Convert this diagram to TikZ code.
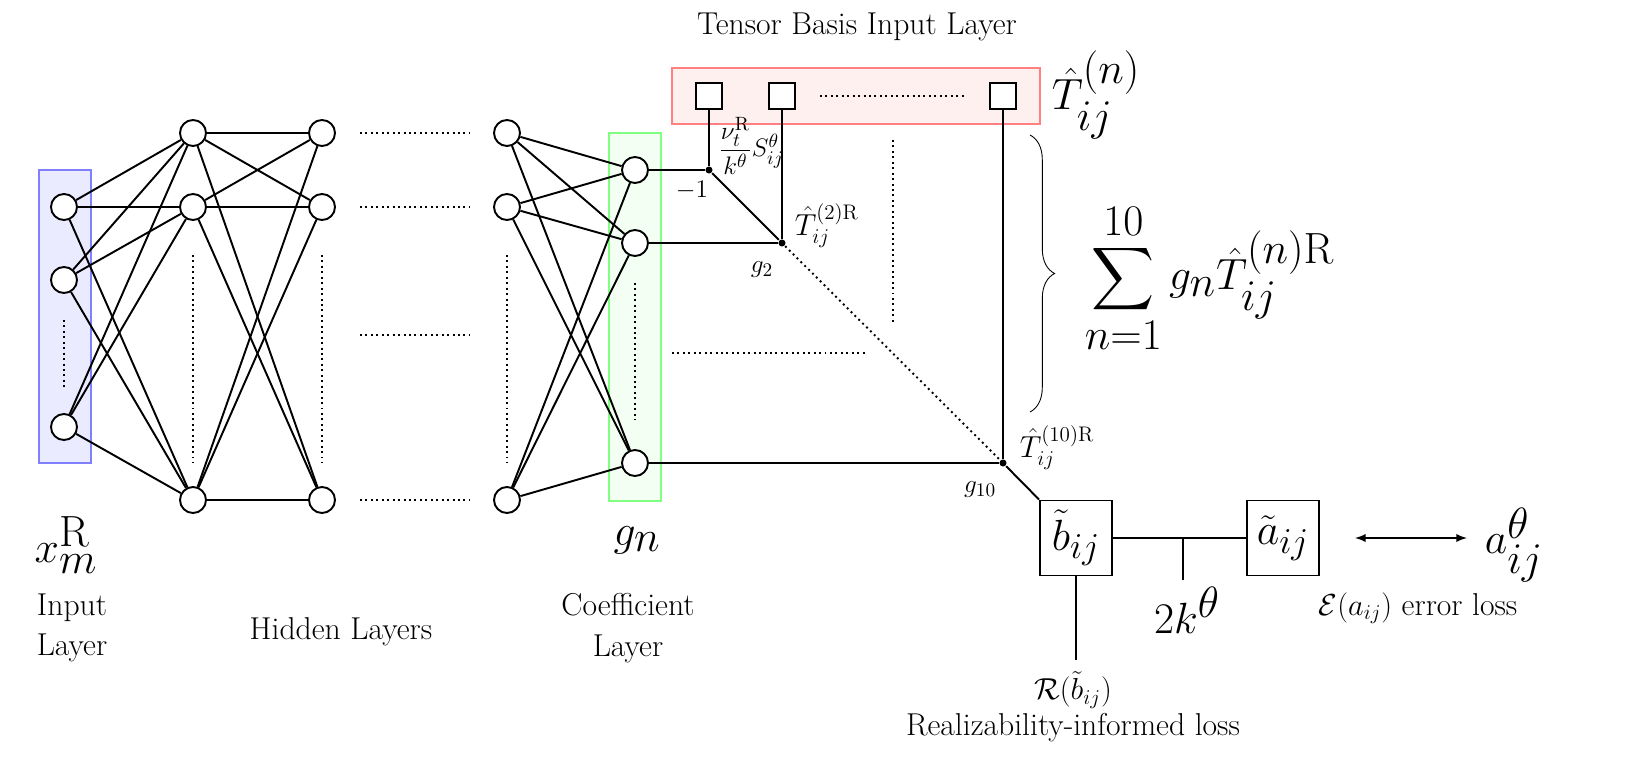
\documentclass[tikz,border=0pt]{standalone}
\usepackage{amsmath}
\usepackage{exscale}
\usetikzlibrary{decorations.pathreplacing}
\begin{document}
\begin{tikzpicture}[x=0.02cm,y=-0.02cm,line width=1.1pt,
  neu/.style={circle,draw,fill=white,minimum size=0.52cm,inner sep=0pt},
  sq/.style={draw,fill=white,minimum size=0.52cm,inner sep=0pt},
  bx/.style={draw,fill=white,minimum width=1.44cm,minimum height=1.5cm,inner sep=0pt,font=\fontsize{32}{36}\selectfont},
  dt/.style={dotted,line width=1.1pt},
  jn/.style={circle,fill,inner sep=0pt,minimum size=4pt},
  lab/.style={font=\fontsize{18}{23}\selectfont,align=center},
  sm/.style={font=\fontsize{15}{18}\selectfont},
  tl/.style={font=\fontsize{18}{21}\selectfont},
  big/.style={font=\fontsize{34}{38}\selectfont}]
\useasboundingbox (0,0) rectangle (1626,780);
% boxes
\draw[blue!50,fill=blue!8,line width=1pt] (39,170) rectangle (91,463);
\draw[green!50,fill=green!5,line width=1pt] (609,133) rectangle (661,501);
\draw[red!50,fill=red!6,line width=1.2pt] (672,68) rectangle (1040,124);
% nodes
\foreach \n/\y in {1/207,2/280,3/427} \node[neu] (i\n) at (64,\y) {};
\foreach \n/\y in {1/133,2/207,3/500} {
  \node[neu] (a\n) at (193,\y) {};
  \node[neu] (b\n) at (322,\y) {};
  \node[neu] (c\n) at (507,\y) {};}
\foreach \n/\y in {1/170,2/243,3/463} \node[neu] (g\n) at (635,\y) {};
\foreach \i in {1,2,3} \foreach \j in {1,2,3} {
  \draw (i\i) -- (a\j); \draw (a\i) -- (b\j); \draw (c\i) -- (g\j);}
% dots
\foreach \y in {133,207,335,500} \draw[dt] (360,\y) -- (470,\y);
\foreach \x in {193,322,507} \draw[dt] (\x,255) -- (\x,462);
\draw[dt] (64,320) -- (64,390);
\draw[dt] (635,283) -- (635,420);
% tensor basis
\node[sq] (t1) at (709,96) {};
\node[sq] (t2) at (782,96) {};
\node[sq] (t3) at (1003,96) {};
\draw[dt] (820,96) -- (965,96);
\node[jn] (j1) at (709,170) {};
\node[jn] (j2) at (782,243) {};
\node[jn] (j3) at (1003,463) {};
\draw (g1) -- (j1); \draw (t1) -- (j1); \draw (j1) -- (j2);
\draw (g2) -- (j2); \draw (t2) -- (j2); \draw[dt] (j2) -- (j3);
\draw (g3) -- (j3); \draw (t3) -- (j3);
\draw[dt] (893,140) -- (893,325);
\draw[dt] (672,353) -- (865,353);
% outputs
\node[bx] (b) at (1076,538) {$\tilde b_{ij}$};
\node[bx] (a) at (1283,538) {$\tilde a_{ij}$};
\draw (j3) -- (b.north west);
\draw (b) -- (a);
\coordinate (k) at (1183,538); \coordinate (kd) at (1183,580);
\draw (k) -- (kd);
\node[big] at (1187,610) {$2k^{\theta}$};
\coordinate (bd) at (1076,660);
\draw (b.south) -- (bd);
\node[lab] at (1073,690) {$\mathcal{R}(\tilde b_{ij})$};
\node[lab] at (1073,728) {Realizability-informed loss};
\coordinate (al) at (1355,538); \coordinate (ar) at (1467,538);
\draw[<->,>=latex] (al) -- (ar);
\node[big,anchor=west] at (1478,545) {$a_{ij}^{\theta}$};
\node[lab] at (1418,608) {$\mathcal{E}(a_{ij})$ error loss};
% labels
\node[lab] at (857,27) {Tensor Basis Input Layer};
\node[sm] at (692,190) {$-1$};
\node[sm,anchor=west] at (712,146) {$\dfrac{\nu_t^{\mathrm R}}{k^{\theta}}S_{ij}^{\theta}$};
\node[tl,anchor=west] at (788,226) {$\hat T_{ij}^{(2)\mathrm R}$};
\node[sm] at (762,270) {$g_2$};
\node[tl,anchor=west] at (1013,448) {$\hat T_{ij}^{(10)\mathrm R}$};
\node[sm] at (980,490) {$g_{10}$};
\node[big,anchor=west] at (1045,95) {$\hat T_{ij}^{(n)}$};
\draw[line width=0.5pt,decorate,decoration={brace,amplitude=14pt}] (1030,135) -- (1030,412);
\node[big,anchor=west] at (1078,278) {$\displaystyle\sum_{n=1}^{10} g_n\hat T_{ij}^{(n)\mathrm R}$};
\node[big] at (66,545) {$x_m^{\mathrm R}$};
\node[big] at (637,540) {$g_n$};
\node[lab] at (72,628) {Input\\Layer};
\node[lab] at (341,632) {Hidden Layers};
\node[lab] at (628,628) {Coefficient\\Layer};
\end{tikzpicture}
\end{document}
